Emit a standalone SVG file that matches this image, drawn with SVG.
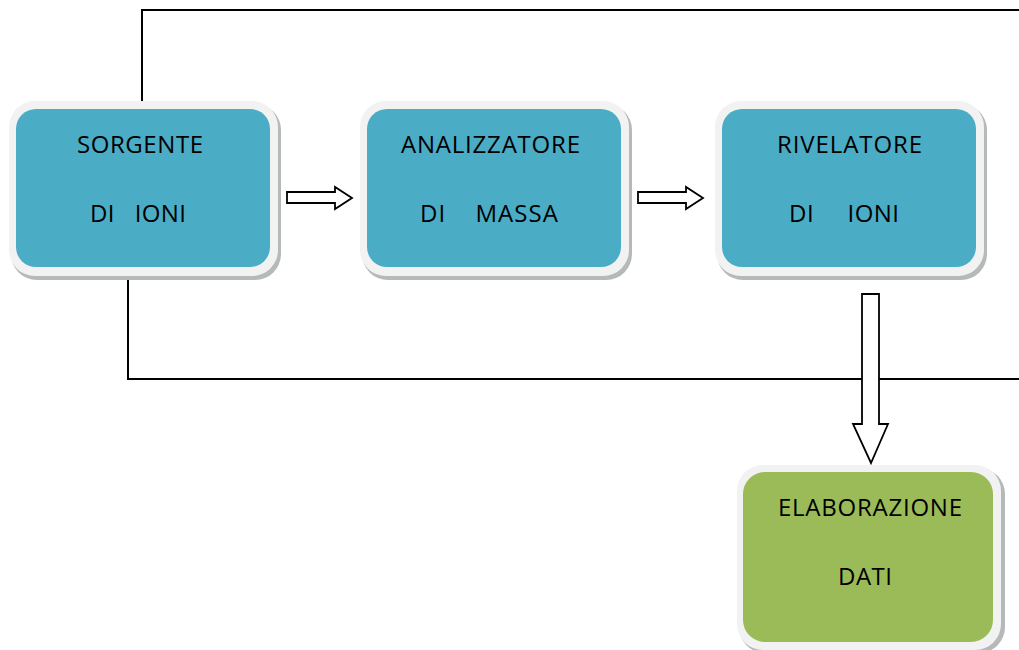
<svg xmlns="http://www.w3.org/2000/svg" width="1019" height="650" viewBox="0 0 1019 650">
<defs>
<style>
.sh{fill:#b5b9ba;}
.fr{fill:#f2f2f2;}
.blue{fill:#4bacc6;}
.green{fill:#9bbb59;}
.t{font-family:"Open Sans","Liberation Sans",sans-serif;font-size:24px;fill:#000;}
.ln{fill:none;stroke:#000;stroke-width:2;}
.ar{fill:#fff;stroke:#000;stroke-width:1.8;stroke-linejoin:miter;}
</style>
</defs>
<rect width="1019" height="650" fill="#fff"/>
<g id="connectors">
<path class="ln" d="M142 106 V10 H1019"/>
<path class="ln" d="M128 268 V379 H1019"/>
<path class="ar" d="M287 192 H335 V187 L352 198 L335 209 V203 H287 Z"/>
<path class="ar" d="M638 192 H686 V187 L703 198 L686 209 V203 H638 Z"/>
<path class="ar" d="M862 294 H879 V424 H888 L871 463 L853 424 H862 Z"/>
</g>
<g id="sorgente">
<rect class="sh" x="11" y="104" width="270" height="176" rx="26"/>
<rect class="fr" x="9" y="101" width="269" height="175" rx="26"/>
<rect class="blue" x="16" y="109" width="254" height="158" rx="20"/>
<text class="t" x="77" y="153" textLength="126" xml:space="preserve">SORGENTE</text>
<text class="t" x="90" y="222" textLength="96" xml:space="preserve">DI   IONI</text>
</g>
<g id="analizzatore">
<rect class="sh" x="362" y="104" width="270" height="176" rx="26"/>
<rect class="fr" x="360" y="101" width="269" height="175" rx="26"/>
<rect class="blue" x="367" y="109" width="254" height="158" rx="20"/>
<text class="t" x="401" y="153" textLength="179" xml:space="preserve">ANALIZZATORE</text>
<text class="t" x="420" y="222" textLength="138" xml:space="preserve">DI    MASSA</text>
</g>
<g id="rivelatore">
<rect class="sh" x="717" y="104" width="270" height="176" rx="26"/>
<rect class="fr" x="715" y="101" width="269" height="175" rx="26"/>
<rect class="blue" x="722" y="109" width="254" height="158" rx="20"/>
<text class="t" x="777" y="153" textLength="145" xml:space="preserve">RIVELATORE</text>
<text class="t" x="789" y="222" textLength="110" xml:space="preserve">DI     IONI</text>
</g>
<g id="elaborazione">
<rect class="sh" x="739" y="468" width="266" height="185" rx="26"/>
<rect class="fr" x="737" y="465" width="264" height="185" rx="26"/>
<rect class="green" x="743" y="472" width="250" height="170" rx="22"/>
<text class="t" x="778" y="516" textLength="184" xml:space="preserve">ELABORAZIONE</text>
<text class="t" x="838" y="585" textLength="54" xml:space="preserve">DATI</text>
</g>
</svg>
